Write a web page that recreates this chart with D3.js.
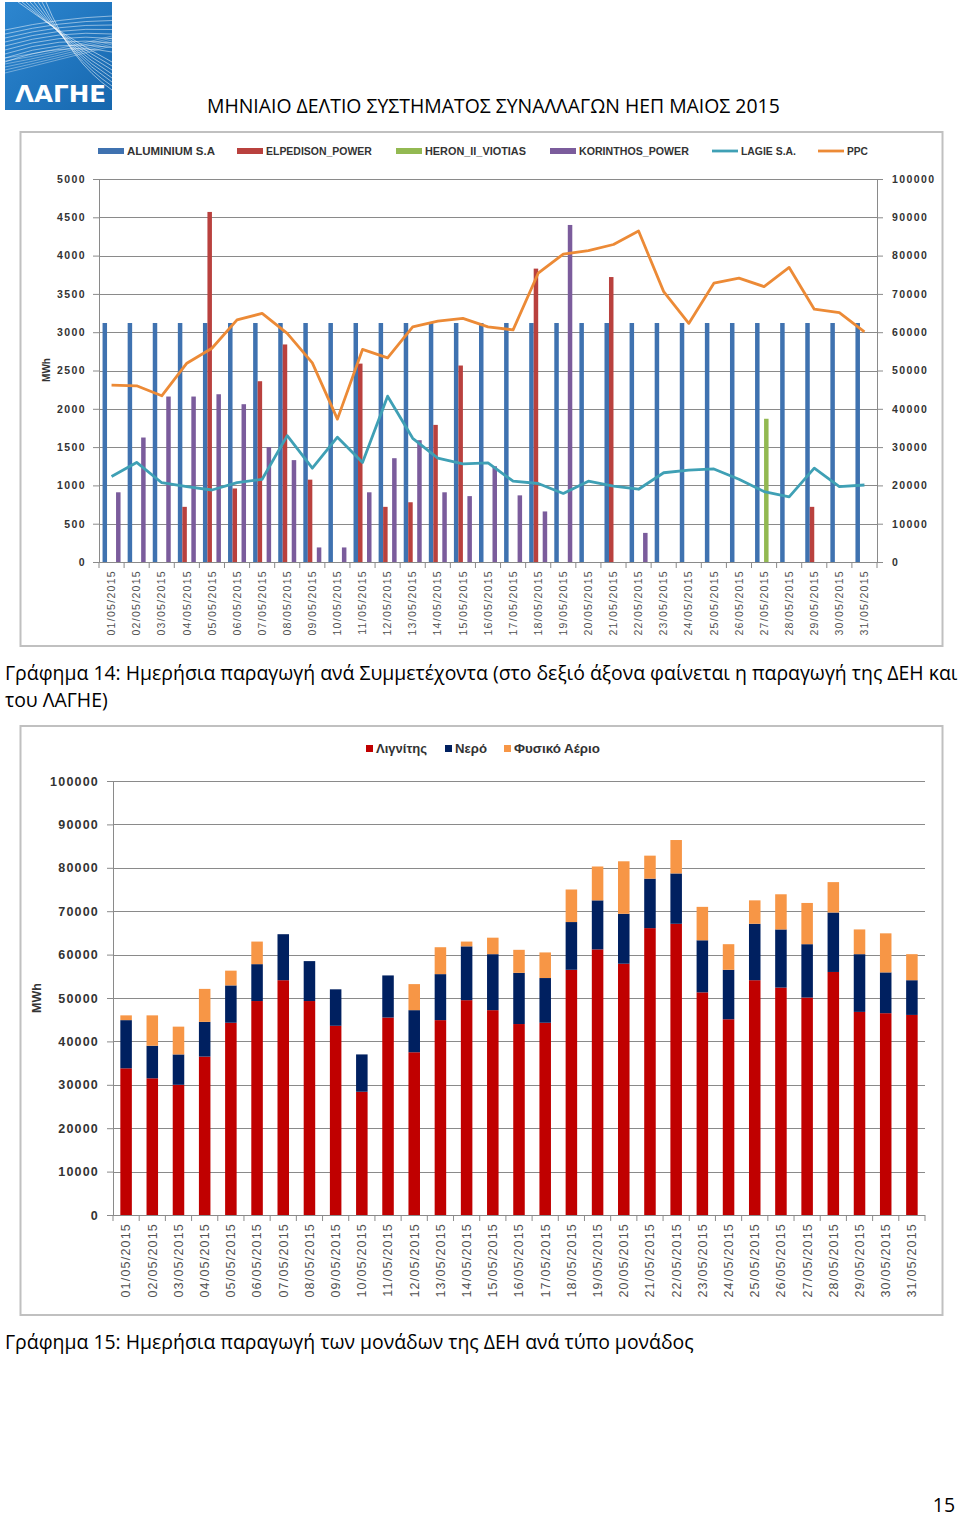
<!DOCTYPE html>
<html><head><meta charset="utf-8">
<script src="https://cdn.jsdelivr.net/npm/d3@7"></script>
<style>body{margin:0;background:#fff} svg{display:block}</style>
</head><body>
<script>
// ---------- DATA ----------
const days = ["01/05/2015","02/05/2015","03/05/2015","04/05/2015","05/05/2015","06/05/2015","07/05/2015","08/05/2015","09/05/2015","10/05/2015","11/05/2015","12/05/2015","13/05/2015","14/05/2015","15/05/2015","16/05/2015","17/05/2015","18/05/2015","19/05/2015","20/05/2015","21/05/2015","22/05/2015","23/05/2015","24/05/2015","25/05/2015","26/05/2015","27/05/2015","28/05/2015","29/05/2015","30/05/2015","31/05/2015"];

// Chart 14 – bars (left axis, MWh)
const aluminium = [3120,3120,3120,3120,3120,3120,3120,3120,3120,3120,3120,3120,3120,3120,3120,3120,3120,3120,3120,3120,3120,3120,3120,3120,3120,3120,3120,3120,3120,3120,3120];
const elpedison = [0,0,0,720,4570,960,2360,2840,1075,0,2590,720,780,1790,2565,0,0,3830,0,0,3720,0,0,0,0,0,0,0,720,0,0];
const heron     = [0,0,0,0,0,0,0,0,0,0,0,0,0,0,0,0,0,0,0,0,0,0,0,0,0,0,1870,0,0,0,0];
const korinthos = [910,1625,2160,2160,2190,2060,1500,1330,190,190,910,1355,1590,910,860,1250,870,660,4400,0,0,380,0,0,0,0,0,0,0,0,0];
// Chart 14 – lines (right axis, MWh)
const lagie = [22300,26000,20700,19700,18800,20700,21600,33000,24500,32600,26000,43300,32300,27100,25600,25900,21100,20500,17900,21100,19800,19000,23300,24000,24300,21600,18400,17000,24500,19700,20100];
const ppc   = [46200,46000,43400,51900,55800,63200,64900,59700,52000,37300,55500,53300,61400,62900,63600,61400,60600,75400,80400,81300,82900,86400,70600,62300,72800,74100,71900,76900,66000,65100,60100];
const leftTicks1  = [0,500,1000,1500,2000,2500,3000,3500,4000,4500,5000];
const rightTicks1 = [0,10000,20000,30000,40000,50000,60000,70000,80000,90000,100000];
const barSeries1 = ["ALUMINIUM S.A","ELPEDISON_POWER","HERON_II_VIOTIAS","KORINTHOS_POWER"];
const lineSeries1 = ["LAGIE S.A.","PPC"];

// Chart 15 – stacked (MWh)
const lignite = [33800,31500,30000,36500,44300,49300,54100,49300,43600,28400,45500,37500,44900,49500,47200,44000,44300,56500,61200,57900,66100,67100,51300,45100,54100,52400,50100,56000,46800,46500,46100];
const hydro   = [11100,7500,7000,8000,8600,8500,10600,9200,8400,8600,9700,9700,10600,12400,12900,11800,10300,11000,11300,11500,11400,11600,12000,11400,13000,13400,12300,13700,13300,9400,8000];
const gas     = [1100,7000,6400,7600,3400,5200,0,0,0,0,0,6000,6200,1100,3800,5300,5900,7500,7800,12100,5300,7700,7700,5900,5400,8100,9500,7000,5700,9000,6000];
const ticks2 = [0,10000,20000,30000,40000,50000,60000,70000,80000,90000,100000];
const stackSeries2 = ["Λιγνίτης","Νερό","Φυσικό Αέριο"];

// ---------- STYLE ----------
const W = 960, H = 1519;
const chartFont = "'Liberation Sans', Arial, sans-serif";
const docFont = "'Open Sans', 'Noto Sans', sans-serif";
const col1 = {"ALUMINIUM S.A":"#3f72b0","ELPEDISON_POWER":"#b9413e","HERON_II_VIOTIAS":"#93b952","KORINTHOS_POWER":"#7b5c9c","LAGIE S.A.":"#3fa0b5","PPC":"#ec8a36"};
const col2 = {"Λιγνίτης":"#c00000","Νερό":"#002060","Φυσικό Αέριο":"#f79646"};
const gridCol = "#8a8a8a", textCol = "#333333";

const svg = d3.select("body").append("svg").attr("width", W).attr("height", H);

function fitWidth(sel, target){
  const w = sel.node().getComputedTextLength();
  const fs = parseFloat(sel.attr("font-size"));
  sel.attr("font-size", (fs*target/w).toFixed(2));
}

// ---------- LOGO ----------
const logo = svg.append("g");
const defs = svg.append("defs");
const lg = defs.append("linearGradient").attr("id","lg").attr("x1",0).attr("y1",0).attr("x2",1).attr("y2",1);
lg.append("stop").attr("offset","0%").attr("stop-color","#2d86cf");
lg.append("stop").attr("offset","60%").attr("stop-color","#1f74bd");
lg.append("stop").attr("offset","100%").attr("stop-color","#1767ad");
logo.append("rect").attr("x",5).attr("y",2).attr("width",107).attr("height",108).attr("fill","url(#lg)");
const lp = logo.append("g").attr("fill","none").attr("stroke","#ffffff");
for (let i=0;i<9;i++){
  lp.append("path").attr("d",`M5,${30+i*4} Q60,${18+i*3} 112,${16+i*4.5}`).attr("stroke-opacity",0.55).attr("stroke-width",0.9);
}
for (let i=0;i<8;i++){
  lp.append("path").attr("d",`M${18+i*4},2 Q70,${40+i*3} 112,${62+i*4}`).attr("stroke-opacity",0.6).attr("stroke-width",0.9);
}
for (let i=0;i<6;i++){
  lp.append("path").attr("d",`M5,${58+i*3} Q50,${52+i*2} 112,${36+i*2}`).attr("stroke-opacity",0.45).attr("stroke-width",0.8);
}
logo.append("text").attr("x",15).attr("y",102).attr("fill","#fff").attr("font-family","'DejaVu Sans', sans-serif")
  .attr("font-weight","bold").attr("font-size",23).attr("textLength",91).attr("lengthAdjust","spacingAndGlyphs").text("ΛΑΓΗΕ");

// ---------- TITLE ----------
const title = svg.append("text").attr("x",207).attr("y",113).attr("font-family",docFont).attr("font-size",19).attr("fill","#000")
  .text("ΜΗΝΙΑΙΟ ΔΕΛΤΙΟ ΣΥΣΤΗΜΑΤΟΣ ΣΥΝΑΛΛΑΓΩΝ ΗΕΠ ΜΑΙΟΣ 2015");
fitWidth(title, 573);

// ---------- CHART 14 ----------
svg.append("rect").attr("x",20.5).attr("y",132).attr("width",922).attr("height",514).attr("fill","#fff").attr("stroke","#c0c0c0").attr("stroke-width",2);
const c1 = {l:99, r:877, t:179, b:562};
const x1 = d3.scaleBand().domain(days).range([c1.l,c1.r]).paddingInner(0.283).paddingOuter(0.1415);
const xs1 = d3.scaleBand().domain(barSeries1).range([0,x1.bandwidth()]);
const yL1 = d3.scaleLinear().domain([0,5000]).range([c1.b,c1.t]);
const yR1 = d3.scaleLinear().domain([0,100000]).range([c1.b,c1.t]);
const g1 = svg.append("g");
// grid
g1.append("g").selectAll("line").data(leftTicks1.slice(1)).join("line")
  .attr("x1",c1.l).attr("x2",c1.r).attr("y1",d=>Math.round(yL1(d))+0.5).attr("y2",d=>Math.round(yL1(d))+0.5)
  .attr("stroke",gridCol).attr("stroke-width",1);
// axes
const axL1 = g1.append("g").attr("transform",`translate(${c1.l},0)`)
  .call(d3.axisLeft(yL1).tickValues(leftTicks1).tickSize(6).tickPadding(7).tickFormat(d3.format("d")));
const axR1 = g1.append("g").attr("transform",`translate(${c1.r},0)`)
  .call(d3.axisRight(yR1).tickValues(rightTicks1).tickSize(6).tickPadding(9).tickFormat(d3.format("d")));
[axL1,axR1].forEach(a=>{
  a.select(".domain").attr("stroke",gridCol);
  a.selectAll(".tick line").attr("stroke",gridCol);
  a.selectAll("text").attr("font-family",chartFont).attr("font-size",10.5).attr("font-weight","bold").attr("fill",textCol).attr("letter-spacing","1.4px");
});
// bars
const barData1 = {"ALUMINIUM S.A":aluminium,"ELPEDISON_POWER":elpedison,"HERON_II_VIOTIAS":heron,"KORINTHOS_POWER":korinthos};
barSeries1.forEach(s=>{
  g1.append("g").selectAll("rect").data(days.map((d,i)=>({d,v:barData1[s][i]})).filter(e=>e.v>0)).join("rect")
    .attr("x",e=>x1(e.d)+xs1(s)).attr("width",xs1.bandwidth())
    .attr("y",e=>yL1(e.v)).attr("height",e=>yL1(0)-yL1(e.v)).attr("fill",col1[s]);
});
// bottom axis
const axB1 = g1.append("g").attr("transform",`translate(0,${c1.b})`);
axB1.append("line").attr("x1",c1.l).attr("x2",c1.r).attr("y1",0.5).attr("y2",0.5).attr("stroke",gridCol);
axB1.selectAll("line.tk").data(d3.range(days.length+1)).join("line").attr("class","tk")
  .attr("x1",i=>c1.l+i*x1.step()).attr("x2",i=>c1.l+i*x1.step()).attr("y1",0).attr("y2",6).attr("stroke",gridCol);
axB1.selectAll("text").data(days).join("text")
  .attr("transform",d=>`translate(${x1(d)+x1.bandwidth()/2},8) rotate(-90)`)
  .attr("text-anchor","end").attr("dy","0.35em")
  .attr("font-family",chartFont).attr("font-size",10.5).attr("fill","#505050").attr("letter-spacing","1.3px").text(d=>d);
// lines
const lineData1 = {"LAGIE S.A.":lagie,"PPC":ppc};
lineSeries1.forEach(s=>{
  g1.append("path").datum(lineData1[s]).attr("fill","none").attr("stroke",col1[s]).attr("stroke-width",2.8).attr("stroke-linejoin","round")
    .attr("d",d3.line().x((v,i)=>x1(days[i])+x1.bandwidth()/2).y(v=>yR1(v)));
});
// y title
g1.append("text").attr("transform","translate(50,370) rotate(-90)").attr("text-anchor","middle")
  .attr("font-family",chartFont).attr("font-size",10).attr("font-weight","bold").attr("fill",textCol).text("MWh");
// legend
const leg1 = [{s:"ALUMINIUM S.A",x:98,type:"bar"},{s:"ELPEDISON_POWER",x:237,type:"bar"},{s:"HERON_II_VIOTIAS",x:396,type:"bar"},
  {s:"KORINTHOS_POWER",x:550,type:"bar"},{s:"LAGIE S.A.",x:712,type:"line"},{s:"PPC",x:818,type:"line"}];
const lw = {"ALUMINIUM S.A":88,"ELPEDISON_POWER":106,"HERON_II_VIOTIAS":101,"KORINTHOS_POWER":110,"LAGIE S.A.":55,"PPC":21};
leg1.forEach(o=>{
  const g = g1.append("g");
  if(o.type==="bar") g.append("rect").attr("x",o.x).attr("y",148).attr("width",26).attr("height",6).attr("fill",col1[o.s]);
  else g.append("line").attr("x1",o.x).attr("x2",o.x+26).attr("y1",151).attr("y2",151).attr("stroke",col1[o.s]).attr("stroke-width",2.8);
  const t = g.append("text").attr("x",o.x+29).attr("y",155).attr("font-family",chartFont).attr("font-size",10).attr("font-weight","bold").attr("fill",textCol).text(o.s);
  fitWidth(t, lw[o.s]);
});

// ---------- CAPTIONS ----------
const cap1 = svg.append("text").attr("x",5).attr("y",680).attr("font-family",docFont).attr("font-size",19).attr("fill","#000")
  .text("Γράφημα 14: Ημερήσια παραγωγή ανά Συμμετέχοντα (στο δεξιό άξονα φαίνεται η παραγωγή της ΔΕΗ και");
fitWidth(cap1, 953);
const capFs = cap1.attr("font-size");
svg.append("text").attr("x",5).attr("y",707).attr("font-family",docFont).attr("font-size",capFs).attr("fill","#000").text("του ΛΑΓΗΕ)");

// ---------- CHART 15 ----------
svg.append("rect").attr("x",20.5).attr("y",726).attr("width",922).attr("height",589).attr("fill","#fff").attr("stroke","#c0c0c0").attr("stroke-width",2);
const c2 = {l:113, r:925, t:781, b:1215};
const x2 = d3.scaleBand().domain(days).range([c2.l,c2.r]).paddingInner(0.56).paddingOuter(0.28);
const y2 = d3.scaleLinear().domain([0,100000]).range([c2.b,c2.t]);
const g2 = svg.append("g");
g2.append("g").selectAll("line").data(ticks2.slice(1)).join("line")
  .attr("x1",c2.l).attr("x2",c2.r).attr("y1",d=>Math.round(y2(d))+0.5).attr("y2",d=>Math.round(y2(d))+0.5)
  .attr("stroke",gridCol).attr("stroke-width",1);
const axL2 = g2.append("g").attr("transform",`translate(${c2.l},0)`)
  .call(d3.axisLeft(y2).tickValues(ticks2).tickSize(6).tickPadding(8).tickFormat(d3.format("d")));
axL2.select(".domain").attr("stroke",gridCol);
axL2.selectAll(".tick line").attr("stroke",gridCol);
axL2.selectAll("text").attr("font-family",chartFont).attr("font-size",12.5).attr("font-weight","bold").attr("fill",textCol).attr("letter-spacing","1.2px");
const stackData = days.map((d,i)=>({d, "Λιγνίτης":lignite[i], "Νερό":hydro[i], "Φυσικό Αέριο":gas[i]}));
const stacked = d3.stack().keys(stackSeries2)(stackData);
stacked.forEach(layer=>{
  g2.append("g").attr("fill",col2[layer.key]).selectAll("rect").data(layer.filter(p=>p[1]>p[0])).join("rect")
    .attr("x",p=>x2(p.data.d)).attr("width",x2.bandwidth())
    .attr("y",p=>y2(p[1])).attr("height",p=>y2(p[0])-y2(p[1]));
});
const axB2 = g2.append("g").attr("transform",`translate(0,${c2.b})`);
axB2.append("line").attr("x1",c2.l).attr("x2",c2.r).attr("y1",0.5).attr("y2",0.5).attr("stroke",gridCol);
axB2.selectAll("line.tk").data(d3.range(days.length+1)).join("line").attr("class","tk")
  .attr("x1",i=>c2.l+i*x2.step()).attr("x2",i=>c2.l+i*x2.step()).attr("y1",0).attr("y2",6).attr("stroke",gridCol);
axB2.selectAll("text").data(days).join("text")
  .attr("transform",d=>`translate(${x2(d)+x2.bandwidth()/2},8) rotate(-90)`)
  .attr("text-anchor","end").attr("dy","0.35em")
  .attr("font-family",chartFont).attr("font-size",12.5).attr("fill","#505050").attr("letter-spacing","1.2px").text(d=>d);
g2.append("text").attr("transform","translate(41,998) rotate(-90)").attr("text-anchor","middle")
  .attr("font-family",chartFont).attr("font-size",12.5).attr("font-weight","bold").attr("fill",textCol).text("MWh");
const leg2 = [{s:"Λιγνίτης",x:366,w:51},{s:"Νερό",x:445,w:32},{s:"Φυσικό Αέριο",x:504,w:86}];
leg2.forEach(o=>{
  g2.append("rect").attr("x",o.x).attr("y",745).attr("width",7).attr("height",7).attr("fill",col2[o.s]);
  const t = g2.append("text").attr("x",o.x+10).attr("y",753).attr("font-family",chartFont).attr("font-size",12.5).attr("font-weight","bold").attr("fill",textCol).text(o.s);
  fitWidth(t, o.w);
});

const cap2 = svg.append("text").attr("x",5).attr("y",1349).attr("font-family",docFont).attr("font-size",capFs).attr("fill","#000")
  .text("Γράφημα 15: Ημερήσια παραγωγή των μονάδων της ΔΕΗ ανά τύπο μονάδος");

svg.append("text").attr("x",955).attr("y",1512).attr("text-anchor","end").attr("font-family",docFont).attr("font-size",capFs).attr("fill","#000").text("15");
</script>
</body></html>
